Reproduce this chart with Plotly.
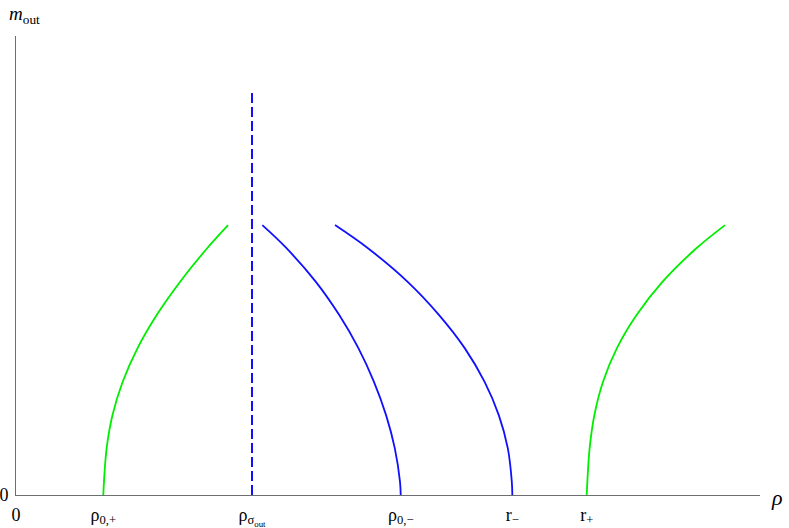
import plotly.graph_objects as go

# ---- data (x in [0,10], y in [0,1]) ----
green_left_x = [1.173, 1.218, 1.297, 1.434, 1.634, 1.891, 2.206, 2.569, 2.850]
green_left_y = [0.0, 0.1017, 0.1743, 0.2468, 0.320, 0.392, 0.4647, 0.5375, 0.588]

blue1_x = [3.311, 3.616, 4.028, 4.345, 4.602, 4.810, 4.974, 5.091, 5.161, 5.171]
blue1_y = [0.588, 0.541, 0.465, 0.392, 0.320, 0.247, 0.174, 0.102, 0.029, 0.0]

blue2_x = [4.288, 4.735, 5.261, 5.687, 6.031, 6.297, 6.489, 6.610, 6.664, 6.671]
blue2_y = [0.588, 0.537, 0.465, 0.392, 0.320, 0.247, 0.174, 0.102, 0.029, 0.0]

green_right_x = [7.671, 7.710, 7.774, 7.890, 8.077, 8.341, 8.691, 9.145, 9.530]
green_right_y = [0.0, 0.1017, 0.1743, 0.2468, 0.320, 0.392, 0.4647, 0.5375, 0.588]

dashed_x = [3.172, 3.172]
dashed_y = [0.0, 0.882]

x_tick_vals = [0.0, 1.173, 3.172, 5.171, 6.671, 7.671]
x_tick_text = ["0", "ρ<sub>0,+</sub>", "ρ<sub>σ<sub>out</sub></sub>", "ρ<sub>0,−</sub>",
               "r<sub>−</sub>", "r<sub>+</sub>"]
y_tick_vals = [0.0]
y_tick_text = ["0"]

GREEN = "#00ee00"
BLUE = "#1010ff"
FONT = "Liberation Serif, Times New Roman, serif"

fig = go.Figure()
for xs, ys, col in [(green_left_x, green_left_y, GREEN),
                    (blue1_x, blue1_y, BLUE),
                    (blue2_x, blue2_y, BLUE),
                    (green_right_x, green_right_y, GREEN)]:
    fig.add_trace(go.Scatter(x=xs, y=ys, mode="lines",
                             line=dict(color=col, width=1.8, shape="spline"),
                             showlegend=False, hoverinfo="skip"))
fig.add_trace(go.Scatter(x=dashed_x, y=dashed_y, mode="lines",
                         line=dict(color=BLUE, width=2, dash="10px,4px"),
                         showlegend=False, hoverinfo="skip"))

fig.update_layout(
    width=789, height=528,
    margin=dict(l=16, r=29, t=36, b=33),
    plot_bgcolor="white", paper_bgcolor="white",
    font=dict(family=FONT, size=18, color="black"),
    xaxis=dict(range=[0, 10], showgrid=False, zeroline=False, showline=True,
               linecolor="#6e6e6e", linewidth=1, tickmode="array",
               tickvals=x_tick_vals, ticktext=x_tick_text, ticks="",
               automargin=False, ticklabelstandoff=3,
               tickfont=dict(family=FONT, size=18)),
    yaxis=dict(range=[0, 1], showgrid=False, zeroline=False, showline=True,
               linecolor="#6e6e6e", linewidth=1, tickmode="array",
               tickvals=y_tick_vals, ticktext=y_tick_text, ticks="",
               automargin=False, ticklabelstandoff=3,
               tickfont=dict(family=FONT, size=18)),
    annotations=[
        dict(text="<i>ρ</i>", xref="paper", yref="paper", x=(777 - 16) / 744, y=-2 / 459,
             xanchor="center", yanchor="middle", showarrow=False,
             font=dict(family=FONT, size=22)),
        dict(text="<i>m</i><sub>out</sub>", xref="paper", yref="paper",
             x=-9 / 744, y=1 + 21 / 459, xanchor="left", yanchor="middle",
             showarrow=False, font=dict(family=FONT, size=19)),
    ],
)

# remove the default 8px body margin so the figure fills the window exactly
fig.write_html("out.html", config={"displayModeBar": False},
               post_script="document.body.style.margin='0';")
